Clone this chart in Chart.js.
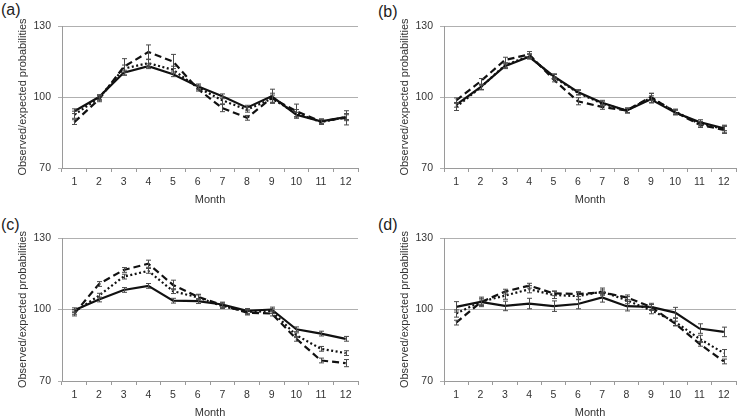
<!DOCTYPE html>
<html><head><meta charset="utf-8">
<script src="https://cdn.jsdelivr.net/npm/chart.js@4.4.0/dist/chart.umd.min.js"></script>
<style>
html,body{margin:0;padding:0;background:#fff;overflow:hidden;width:737px;height:419px;position:relative;}
.pl{position:absolute;font-family:"Liberation Sans",Arial,sans-serif;font-size:16px;line-height:1;color:#222;}
canvas{position:absolute;}
</style></head><body>
<div class="pl" style="left:1px;top:2px">(a)</div>
<div class="pl" style="left:378px;top:4px">(b)</div>
<div class="pl" style="left:1px;top:217px">(c)</div>
<div class="pl" style="left:378px;top:217px">(d)</div>
<canvas id="ca"></canvas>
<canvas id="cb"></canvas>
<canvas id="cc"></canvas>
<canvas id="cd"></canvas>
<script>
const months = ['1','2','3','4','5','6','7','8','9','10','11','12'];
const yTicks = [70, 100, 130];

const aSolid  = [94, 100, 110.3, 113, 109.6, 104.5, 100.3, 95.5, 100.3, 92.5, 89.7, 91.5];
const aSolidErr  = [1, 1, 1, 1, 1, 1, 1, 1, 3, 1, 1, 1];
const aDotted = [92.5, 99.6, 112, 114.3, 111.5, 104, 98.6, 94.6, 99.3, 93.2, 89.4, 91.5];
const aDottedErr = [1.5, 1, 1.5, 1.5, 1.5, 1, 1.5, 1, 1.5, 1.5, 1, 1.5];
const aDashed = [89.4, 99, 112.7, 119, 115, 103.5, 95.3, 91.2, 99.6, 94, 89.7, 91.2];
const aDashedErr = [1, 1, 3.5, 3, 3, 1, 1.5, 1, 2, 3, 1, 3];

const bSolid  = [96.7, 104.2, 113, 117, 108.8, 102.1, 97.6, 94.3, 99, 93.4, 89.4, 86.8];
const bSolidErr  = [1, 1, 1, 1, 1, 1, 1, 1, 1.5, 1, 1, 1];
const bDotted = [95.8, 104, 113.4, 117.3, 108.5, 101.8, 97.2, 94.3, 99.6, 93.9, 88.7, 86.6];
const bDottedErr = [1.5, 1, 1, 1, 1, 1, 1, 1, 2, 1, 1, 1.5];
const bDashed = [98.6, 106.6, 115.6, 118, 107.4, 98.2, 95.8, 94.3, 100, 93.6, 88.3, 86.1];
const bDashedErr = [1, 1.2, 1.2, 1.2, 1, 1.5, 1, 1, 1.5, 1, 1.2, 1.5];

const cSolid  = [99.7, 104.2, 108.2, 109.9, 103.7, 103.5, 102.1, 99.4, 100, 91.7, 89.9, 87.7];
const cSolidErr  = [1, 1, 1, 1, 1, 1, 1, 1, 1, 1, 1, 1];
const cDotted = [99, 105.8, 113.8, 116.2, 107.7, 105.1, 101.4, 99, 99.3, 89.2, 83.5, 81.7];
const cDottedErr = [1, 1, 1, 1, 1, 1, 1, 1, 1, 1, 1, 1];
const cDashed = [98.3, 110.7, 116.6, 119.2, 110.3, 105.4, 101.8, 98.7, 98.3, 87.7, 78.6, 77.5];
const cDashedErr = [1, 1, 1, 1.5, 2, 1, 1, 1, 1, 1, 1, 1.5];

const dSolid  = [101.1, 103.2, 101.5, 102.5, 101.4, 102.3, 105.1, 101.4, 101.1, 98.7, 92, 90.6];
const dSolidErr  = [2.2, 2, 2, 2.2, 2.2, 2, 2, 2, 1.5, 2.2, 2, 2];
const dDotted = [98.3, 103.2, 105.8, 108.5, 106.1, 105.6, 107.5, 103.9, 99.7, 94.8, 87.7, 81.7];
const dDottedErr = [1.5, 1.5, 1.5, 1.5, 1.5, 1.5, 1.5, 1.5, 1.5, 1.5, 1.5, 1.5];
const dDashed = [94.5, 103, 107.5, 110, 106.8, 106.5, 107.2, 105.1, 101.1, 94.1, 85.6, 78.2];
const dDashedErr = [1, 1, 1, 1, 1, 1, 1, 1, 1, 1, 1, 1];

const FONT = '"Liberation Sans", Arial, sans-serif';

const errorBars = {
  id: 'errorBars',
  afterDatasetsDraw(chart) {
    const {ctx, scales: {x, y}} = chart;
    ctx.save();
    ctx.strokeStyle = '#4a4a4a';
    ctx.lineWidth = 1;
    chart.data.datasets.forEach(ds => {
      if (!ds.errors) return;
      ds.data.forEach((v, i) => {
        const e = ds.errors[i];
        const px = Math.round(x.getPixelForValue(i)) + 0.5;
        const t = y.getPixelForValue(v + e), b = y.getPixelForValue(v - e);
        ctx.beginPath();
        ctx.moveTo(px, t); ctx.lineTo(px, b);
        ctx.moveTo(px - 2.5, t); ctx.lineTo(px + 2.5, t);
        ctx.moveTo(px - 2.5, b); ctx.lineTo(px + 2.5, b);
        ctx.stroke();
      });
    });
    ctx.restore();
  }
};

function makePanel(id, left, top, w, h, plot, solid, solidErr, dotted, dottedErr, dashed, dashedErr) {
  const cv = document.getElementById(id);
  cv.width = w; cv.height = h;
  cv.style.left = left + 'px'; cv.style.top = top + 'px';
  cv.style.width = w + 'px'; cv.style.height = h + 'px';
  const lineH = 13.2;
  new Chart(cv, {
    type: 'line',
    data: {
      labels: months,
      datasets: [
        {data: dashed, errors: dashedErr, borderColor: '#111', borderWidth: 2.2, borderDash: [7, 4], pointRadius: 0, tension: 0, fill: false},
        {data: dotted, errors: dottedErr, borderColor: '#111', borderWidth: 2.2, borderDash: [2, 2.5], pointRadius: 0, tension: 0, fill: false},
        {data: solid, errors: solidErr, borderColor: '#111', borderWidth: 2.2, pointRadius: 0, tension: 0, fill: false}
      ]
    },
    options: {
      responsive: false,
      animation: false,
      devicePixelRatio: 1,
      layout: {padding: {left: 0, top: plot.t, right: w - plot.r, bottom: 0}},
      plugins: {legend: {display: false}, tooltip: {enabled: false}},
      scales: {
        x: {
          type: 'category',
          offset: true,
          grid: {display: true, drawOnChartArea: false, drawTicks: true, tickLength: 4, color: '#9a9a9a', offset: true},
          border: {display: true, color: '#9a9a9a', width: 1},
          ticks: {color: '#333', font: {family: FONT, size: 10.5}, padding: 4, maxRotation: 0, autoSkip: false},
          title: {display: true, text: 'Month', color: '#333', font: {family: FONT, size: 11}, padding: {top: 0, bottom: 10 - lineH / 2}},
          afterFit(s) { s.height = h - plot.b; }
        },
        y: {
          min: 70, max: 130,
          afterBuildTicks(s) { s.ticks = yTicks.map(v => ({value: v})); },
          grid: {display: true, drawOnChartArea: true, drawTicks: true, tickLength: 4, color: '#b0b0b0'},
          border: {display: true, color: '#9a9a9a', width: 1},
          ticks: {color: '#333', font: {family: FONT, size: 10.5}, padding: 7},
          title: {display: true, text: 'Observed/expected probabilities', color: '#333', font: {family: FONT, size: 11}, padding: {top: plot.tx - lineH / 2, bottom: 0}},
          afterFit(s) { s.width = plot.l; }
        }
      }
    },
    plugins: [errorBars]
  });
}

makePanel('ca', 0, 0, 368, 210, {l: 62, t: 26, r: 358, b: 168, tx: 23}, aSolid, aSolidErr, aDotted, aDottedErr, aDashed, aDashedErr);
makePanel('cb', 368, 0, 369, 210, {l: 76, t: 26, r: 368, b: 168, tx: 37}, bSolid, bSolidErr, bDotted, bDottedErr, bDashed, bDashedErr);
makePanel('cc', 0, 205, 368, 218, {l: 62, t: 33, r: 358, b: 176, tx: 23}, cSolid, cSolidErr, cDotted, cDottedErr, cDashed, cDashedErr);
makePanel('cd', 368, 205, 369, 218, {l: 76, t: 33, r: 368, b: 176, tx: 37}, dSolid, dSolidErr, dDotted, dDottedErr, dDashed, dDashedErr);
</script>
</body></html>
